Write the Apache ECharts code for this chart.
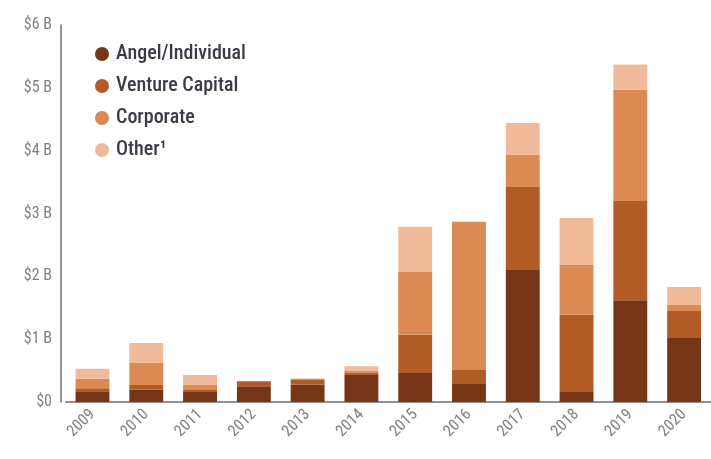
<!DOCTYPE html>
<html><head><meta charset="utf-8">
<script src="https://cdn.jsdelivr.net/npm/echarts@6/dist/echarts.min.js"></script>
<style>html,body{margin:0;padding:0;background:#fff;}#c{width:711px;height:459px;}</style>
</head><body><div id="c"></div>
<script>
const years = ['2009','2010','2011','2012','2013','2014','2015','2016','2017','2018','2019','2020'];
const angel     = [0.17, 0.20, 0.16, 0.25, 0.28, 0.43, 0.46, 0.30, 2.10, 0.16, 1.62, 1.02];
const venture   = [0.05, 0.07, 0.03, 0.08, 0.07, 0.04, 0.61, 0.21, 1.32, 1.23, 1.58, 0.43];
const corporate = [0.15, 0.35, 0.08, 0.00, 0.02, 0.03, 1.00, 2.36, 0.51, 0.79, 1.77, 0.10];
const other     = [0.16, 0.32, 0.16, 0.00, 0.00, 0.07, 0.72, 0.00, 0.51, 0.75, 0.40, 0.28];
const yTicks = ['$0','$1 B','$2 B','$3 B','$4 B','$5 B','$6 B'];
const names = ['Angel/Individual','Venture Capital','Corporate','Other¹'];
const colors = ['#763517','#b15b26','#da8a52','#f1ba9a'];
const font = '"Roboto Condensed","Liberation Sans Narrow","Roboto",sans-serif';

const chart = echarts.init(document.getElementById('c'));
const data = [angel, venture, corporate, other];
chart.setOption({
  animation:false,
  backgroundColor:'#fff',
  grid:{left:65.6, right:-11, top:25, bottom:57},
  legend:{
    orient:'vertical', left:90, top:39, itemGap:12, itemWidth:14, itemHeight:14,
    icon:'circle',
    textStyle:{fontFamily:font, fontSize:20, color:'#3a3a4a', fontWeight:500, padding:[0,0,0,2]},
    data:names
  },
  xAxis:{
    type:'category', data:years,
    axisLine:{lineStyle:{color:'#6f6f6f', width:1.5}},
    axisTick:{show:false},
    axisLabel:{rotate:45, fontFamily:font, fontSize:16, color:'#808080', margin:10, interval:0}
  },
  yAxis:{
    type:'value', min:0, max:6, interval:1, offset:4.6,
    axisLine:{show:true, lineStyle:{color:'#6f6f6f', width:1.5}},
    axisTick:{show:false},
    splitLine:{show:false},
    axisLabel:{fontFamily:font, fontSize:16, color:'#808080', margin:9,
      formatter:(v)=>yTicks[v]}
  },
  series: names.map((n,i)=>({
    name:n, type:'bar', stack:'t', data:data[i], barWidth:'63%',
    itemStyle:{color:colors[i]}
  }))
});
</script></body></html>
